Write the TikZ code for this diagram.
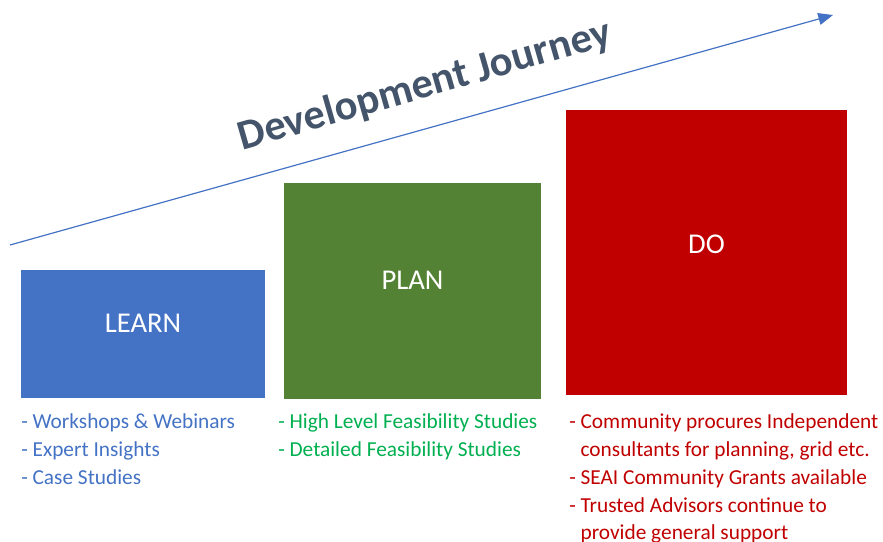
\documentclass[tikz,border=0pt]{standalone}
\usepackage{fontspec}
\setmainfont{Carlito}
\usetikzlibrary{arrows.meta}
\definecolor{cblue}{HTML}{4472C4}
\definecolor{cgreen}{HTML}{548235}
\definecolor{cred}{HTML}{C00000}
\definecolor{tgreen}{HTML}{00B050}
\definecolor{tslate}{HTML}{44546A}
\tikzset{
  stagebox/.style={draw=none, minimum width=#1, inner sep=0pt, anchor=north west},
  stagelabel/.style={text=white, anchor=base, inner sep=0pt, font=\fontsize{21.5pt}{24pt}\selectfont},
  item/.style={anchor=base west, inner sep=0pt, font=\fontsize{16pt}{19pt}\selectfont},
  journey/.style={draw=cblue, line width=0.9pt, -{Triangle[length=11pt,width=9pt]}},
  titletext/.style={text=tslate, font=\fontsize{31.8pt}{36pt}\selectfont\bfseries, inner sep=0pt}
}
\begin{document}
\begin{tikzpicture}[x=0.75pt,y=-0.75pt]
\useasboundingbox (0,0) rectangle (883,542);
% boxes
\node[stagebox=183pt, minimum height=96pt, fill=cblue] (learn) at (21,270) {};
\node[stagebox=192.75pt, minimum height=162pt, fill=cgreen] (plan) at (284,183) {};
\node[stagebox=210.75pt, minimum height=213.75pt, fill=cred] (do) at (566,110) {};
\node[stagelabel] (learnlbl) at (143,332) {LEARN};
\node[stagelabel] (planlbl) at (412.5,289) {PLAN};
\node[stagelabel] (dolbl) at (706.5,253) {DO};
% arrow
\coordinate (a0) at (10,245);
\coordinate (a1) at (833,15);
\draw[journey] (a0) -- (a1);
\node[titletext, rotate=16] (title) at (425,86) {Development Journey};
% learn list
\node[item, text=cblue] (l1) at (21,428) {- Workshops \& Webinars};
\node[item, text=cblue] (l2) at (21,456) {- Expert Insights};
\node[item, text=cblue] (l3) at (21,484) {- Case Studies};
% plan list
\node[item, text=tgreen] (p1) at (278,428) {- High Level Feasibility Studies};
\node[item, text=tgreen] (p2) at (278,456) {- Detailed Feasibility Studies};
% do list
\node[item, text=cred] (d1) at (569,428) {- Community procures Independent};
\node[item, text=cred] (d2) at (569,456) {\hphantom{- }consultants for planning, grid etc.};
\node[item, text=cred] (d3) at (569,484) {- SEAI Community Grants available};
\node[item, text=cred] (d4) at (569,512) {- Trusted Advisors continue to};
\node[item, text=cred] (d5) at (569,539) {\hphantom{- }provide general support};
\end{tikzpicture}
\end{document}
